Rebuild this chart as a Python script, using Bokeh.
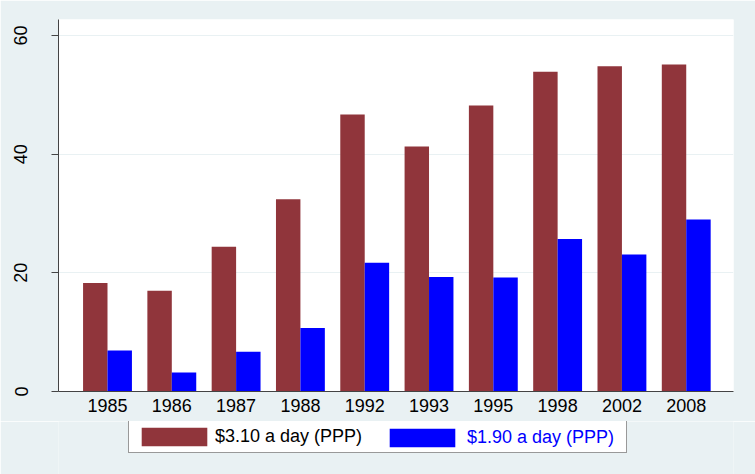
from bokeh.plotting import figure
from bokeh.layouts import column
from bokeh.models import Range1d, Legend, LegendItem, FixedTicker, ColumnDataSource
from bokeh.embed import file_html
from bokeh.resources import INLINE

years = ["1985", "1986", "1987", "1988", "1992", "1993", "1995", "1998", "2002", "2008"]
poverty_310 = [18.3, 17.0, 24.4, 32.4, 46.7, 41.3, 48.2, 53.9, 54.8, 55.1]
poverty_190 = [6.9, 3.2, 6.7, 10.7, 21.7, 19.3, 19.2, 25.7, 23.1, 29.0]
y_ticks = [0, 20, 40, 60]
label_310 = "$3.10 a day (PPP)"
label_190 = "$1.90 a day (PPP)"

BG = "#E9F1F3"
RED = "#90353B"
BLUE = "#0000FF"
FONT = "Liberation Sans"
FS = "18px"

idx = list(range(len(years)))
src = ColumnDataSource(dict(
    x_red=[i - 0.19 for i in idx],
    x_blue=[i + 0.19 for i in idx],
    red=poverty_310,
    blue=poverty_190,
))

p = figure(width=755, height=421, output_backend="svg", toolbar_location=None,
           x_range=Range1d(-0.762, 9.735), y_range=Range1d(0, 62.7),
           min_border_left=58, min_border_right=22, min_border_top=19, min_border_bottom=30)

p.background_fill_color = "white"
p.border_fill_color = BG
p.outline_line_color = None

p.vbar(x="x_red", top="red", width=0.38, source=src, fill_color=RED, line_color=None)
p.vbar(x="x_blue", top="blue", width=0.38, source=src, fill_color=BLUE, line_color=None)

p.xgrid.grid_line_color = None
p.ygrid.grid_line_color = BG
p.ygrid.grid_line_width = 1
p.ygrid.ticker = FixedTicker(ticks=y_ticks)

p.yaxis.ticker = FixedTicker(ticks=y_ticks)
p.yaxis.major_label_orientation = "vertical"
p.yaxis.major_tick_out = 7
p.yaxis.major_tick_in = 0
p.yaxis.minor_tick_line_color = None
p.yaxis.major_label_standoff = 24
p.yaxis.axis_line_color = "#444444"
p.yaxis.major_tick_line_color = "#444444"

p.xaxis.ticker = FixedTicker(ticks=idx)
p.xaxis.major_label_overrides = {i: y for i, y in enumerate(years)}
p.xaxis.major_tick_out = 0
p.xaxis.major_tick_in = 0
p.xaxis.minor_tick_line_color = None
p.xaxis.major_label_standoff = 7
p.xaxis.axis_line_color = "#444444"

for ax in (p.xaxis, p.yaxis):
    ax.major_label_text_font = FONT
    ax.major_label_text_font_size = FS
    ax.major_label_text_color = "black"

# legend strip below the chart (its frame is aligned with the main frame)
lg = figure(width=755, height=53, output_backend="svg", toolbar_location=None,
            x_range=Range1d(-0.762, 9.735), y_range=Range1d(0, 62.7),
            x_axis_type=None, y_axis_type=None,
            min_border_left=58, min_border_right=22, min_border_top=0, min_border_bottom=0)
lg.background_fill_color = BG
lg.border_fill_color = BG
lg.outline_line_color = None
lg.xgrid.visible = False
lg.ygrid.visible = False
d_red = lg.vbar(x="x_red", top="red", width=0.38, source=src, fill_color=RED, line_color=None, visible=False)
d_blue = lg.vbar(x="x_blue", top="blue", width=0.38, source=src, fill_color=BLUE, line_color=None, visible=False)

common = dict(orientation="horizontal", padding=4, margin=0, glyph_width=82, glyph_height=23,
              label_height=23, label_text_font=FONT, label_text_font_size=FS,
              inactive_fill_alpha=0.0, border_line_color="#333333", border_line_width=1,
              background_fill_color="white")
leg_a = Legend(items=[LegendItem(label=label_310, renderers=[d_red])],
               location=(70, 21), label_width=407, label_standoff=0, label_text_color="black",
               background_fill_alpha=1.0, **common)
leg_b = Legend(items=[LegendItem(label=label_190, renderers=[d_blue])],
               location=(319, 21), label_width=140, label_standoff=4, label_text_color=BLUE,
               border_line_alpha=0.0, background_fill_alpha=0.0, **common)
lg.add_layout(leg_a, "center")
lg.add_layout(leg_b, "center")

layout = column(p, lg, spacing=0)
open("out.html", "w").write(file_html(layout, INLINE))
